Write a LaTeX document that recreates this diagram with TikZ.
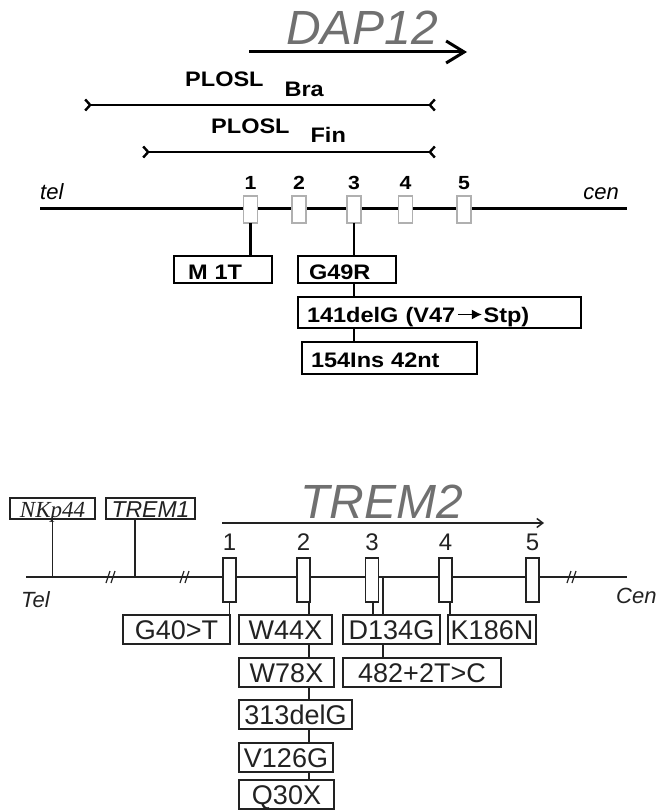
\documentclass[tikz,border=0pt]{standalone}
\usepackage{fontspec}
\setmainfont{Liberation Sans}
\newfontfamily\widesans[FakeStretch=1.12]{Liberation Sans}
\newfontfamily\serifit{Liberation Serif}
\usetikzlibrary{arrows.meta, positioning, calc}
\definecolor{genegray}{HTML}{707070}
\definecolor{exonedge}{HTML}{B0B0B0}
\definecolor{ink}{HTML}{222222}
\newcommand{\mutto}{\kern2pt\tikz[baseline=0pt]\draw[line width=1.4pt,-{Latex[length=10pt,width=10pt]}] (0pt,7.5pt) -- (24pt,7.5pt);\kern1pt}
\tikzset{
  genename/.style = {font=\itshape\fontsize{48}{52}\selectfont, text=genegray,
                     inner sep=0pt, anchor=base west},
  plabel/.style   = {font=\widesans\bfseries\fontsize{21}{24}\selectfont,
                     inner sep=0pt, anchor=base west},
  dnum/.style     = {font=\widesans\bfseries\fontsize{19}{22}\selectfont, inner sep=0pt},
  tnum/.style     = {font=\fontsize{24}{26}\selectfont, text=ink, inner sep=0pt},
  ends/.style     = {font=\itshape\fontsize{22}{24}\selectfont, inner sep=0pt},
  dexon/.style    = {draw=exonedge, fill=white, line width=1.5pt,
                     minimum width=14pt, minimum height=27pt, inner sep=0pt, outer sep=0pt},
  texon/.style    = {draw=ink, fill=white, line width=1.3pt,
                     minimum width=13pt, minimum height=44pt, inner sep=0pt, outer sep=0pt},
  dmut/.style     = {draw, fill=white, line width=2.6pt, anchor=north west,
                     inner ysep=0pt, outer sep=0pt, align=left,
                     text height=19pt, text depth=0pt,
                     font=\widesans\bfseries\fontsize{21}{24}\selectfont},
  tmut/.style     = {draw=ink, fill=white, line width=1.4pt, anchor=north west,
                     inner sep=0pt, outer sep=0pt, minimum height=29pt,
                     text height=19pt, text depth=0pt, text=ink,
                     font=\fontsize{27}{30}\selectfont},
  nbox/.style     = {draw=ink, line width=1.2pt, anchor=north west, inner sep=0pt,
                     outer sep=0pt, minimum height=21pt, text height=17pt, text depth=0pt,
                     text=ink, font=\fontsize{23}{25}\selectfont},
  dline/.style    = {line width=3pt},
  dstem/.style    = {line width=2.6pt},
  plosl/.style    = {line width=2.4pt,
                     {Straight Barb[reversed,length=5pt,width=11pt]}-{Straight Barb[reversed,length=5pt,width=11pt]}},
  dgene/.style    = {line width=3pt, -{Straight Barb[length=18pt,width=22pt]}},
  tgene/.style    = {line width=1.5pt, draw=ink, -{Straight Barb[length=6pt,width=9pt]}},
  tline/.style    = {line width=1.5pt, draw=ink},
  tstem/.style    = {line width=1.2pt, draw=ink},
}
\begin{document}
\begin{tikzpicture}[x=1pt, y=-1pt]
    \useasboundingbox (0,0) rectangle (655,810);

    % DAP12
    \node[genename] (dap) at (286,45) {DAP12};
    \coordinate (dapA) at (249,52);
    \coordinate (dapB) at (467,52);
    \draw[dgene] (dapA) -- (dapB);

    \coordinate (braL) at (84,105);
    \coordinate (braR) at (436,105);
    \coordinate (finL) at (142,152);
    \coordinate (finR) at (436,152);
    \draw[plosl] (braL) -- (braR);
    \draw[plosl] (finL) -- (finR);
    \node[plabel] (plbra) at (185,87)  {PLOSL\hspace{21pt}\raisebox{-10pt}{Bra}};
    \node[plabel] (plfin) at (211,134) {PLOSL\hspace{21pt}\raisebox{-9pt}{Fin}};

    \coordinate (dl) at (40,209);
    \coordinate (dr) at (627,209);
    \draw[dline] (dl) -- (dr);
    \node[ends, anchor=base west] (tel) at (40,200)  {tel};
    \node[ends, anchor=base east] (cen) at (619,200) {cen};
    \foreach \x [count=\i] in {250.5,299,354,405.5,464}
      \node[dexon, label={[dnum, label distance=6pt]above:\i}] (d\i) at (\x,209.5) {};

    \node[dmut, inner xsep=14pt, text width=70pt, minimum height=27pt] (m1t)  at (174,256) {M 1T};
    \node[dmut, inner xsep=11pt, text width=76pt, minimum height=27pt] (g49r) at (298,256) {G49R};
    \node[dmut, inner xsep=9pt, text width=265pt, minimum height=31pt,
          below=14pt of g49r.south west, anchor=north west] (d141) {141delG (V47\mutto Stp)};
    \node[dmut, inner xsep=9pt, text width=157pt, minimum height=32pt,
          below=14pt of d141.south west, anchor=north west, xshift=4pt] (i154) {154Ins 42nt};

    \draw[dstem] (d1.south) -- (d1.south |- m1t.north);
    \draw[dstem] (d3.south) -- (d3.south |- g49r.north);
    \draw[dstem] (g49r.south -| d3) -- (d141.north -| d3);
    \draw[dstem] (d141.south -| d3) -- (i154.north -| d3);

    % TREM2
    \coordinate (tl) at (26,577);
    \coordinate (tr) at (627,577);
    \draw[tline] (tl) -- (tr);
    \foreach \bx in {112,186,573}
      \draw[tstem] (\bx-6,583) -- (\bx-2,571) (\bx-1,583) -- (\bx+3,571);
    \node[ends, text=ink, anchor=base west] (tel2) at (21,607)  {Tel};
    \node[ends, text=ink, anchor=base west] (cen2) at (616,603) {Cen};

    \node[nbox, minimum width=85pt, font=\serifit\itshape\fontsize{23}{25}\selectfont] (nkp) at (10,498) {NKp44};
    \node[nbox, minimum width=89pt, font=\itshape\fontsize{23}{25}\selectfont] (trem1) at (106,498) {TREM1};
    \draw[tstem] (nkp.south) -- (nkp.south |- tl);
    \coordinate (t1s) at ($(trem1.south west)+(29,0)$);
    \draw[tstem] (t1s) -- (t1s |- tl);

    \node[genename] (trem2) at (300,518) {TREM2};
    \coordinate (tgA) at (222,523);
    \coordinate (tgB) at (544,523);
    \draw[tgene] (tgA) -- (tgB);

    \foreach \x [count=\i] in {229.5,303.5,372,445.5,532.5}
      \node[texon, label={[tnum, label distance=7pt]above:\i}] (t\i) at (\x,580) {};

    \node[tmut, minimum width=107pt] (g40)  at (123,615) {G40>T};
    \node[tmut, minimum width=93pt]  (w44)  at (239,615) {W44X};
    \node[tmut, minimum width=97pt]  (d134) at (343,615) {D134G};
    \node[tmut, minimum width=88pt]  (k186) at (448,615) {K186N};
    \node[tmut, minimum width=95pt,  below=14pt of w44.south west, anchor=north west]  (w78)  {W78X};
    \node[tmut, minimum width=158pt, below=14pt of d134.south west, anchor=north west] (c482) {482+2T>C};
    \node[tmut, minimum width=113pt, below=13pt of w78.south west, anchor=north west]  (d313) {313delG};
    \node[tmut, minimum width=94pt,  below=14pt of d313.south west, anchor=north west] (v126) {V126G};
    \node[tmut, minimum width=95pt,  below=8pt of v126.south west, anchor=north west]  (q30)  {Q30X};

    \draw[tstem] (t1.south) -- (t1.south |- g40.north);
    \coordinate (s2) at (309,602);
    \draw[tstem] (s2) -- (s2 |- w44.north);
    \draw[tstem] (w44.south -| s2) -- (w78.north -| s2);
    \draw[tstem] (w78.south -| s2) -- (d313.north -| s2);
    \draw[tstem] (d313.south -| s2) -- (v126.north -| s2);
    \draw[tstem] (v126.south -| s2) -- (q30.north -| s2);
    \coordinate (s3) at (373,602);
    \draw[tstem] (s3) -- (s3 |- d134.north);
    \coordinate (ivs) at (383,577);
    \draw[tstem] (ivs) -- (ivs |- d134.north);
    \draw[tstem] (d134.south -| ivs) -- (c482.north -| ivs);
    \coordinate (s4) at (450,602);
    \draw[tstem] (s4) -- (s4 |- k186.north);
\end{tikzpicture}
\end{document}
